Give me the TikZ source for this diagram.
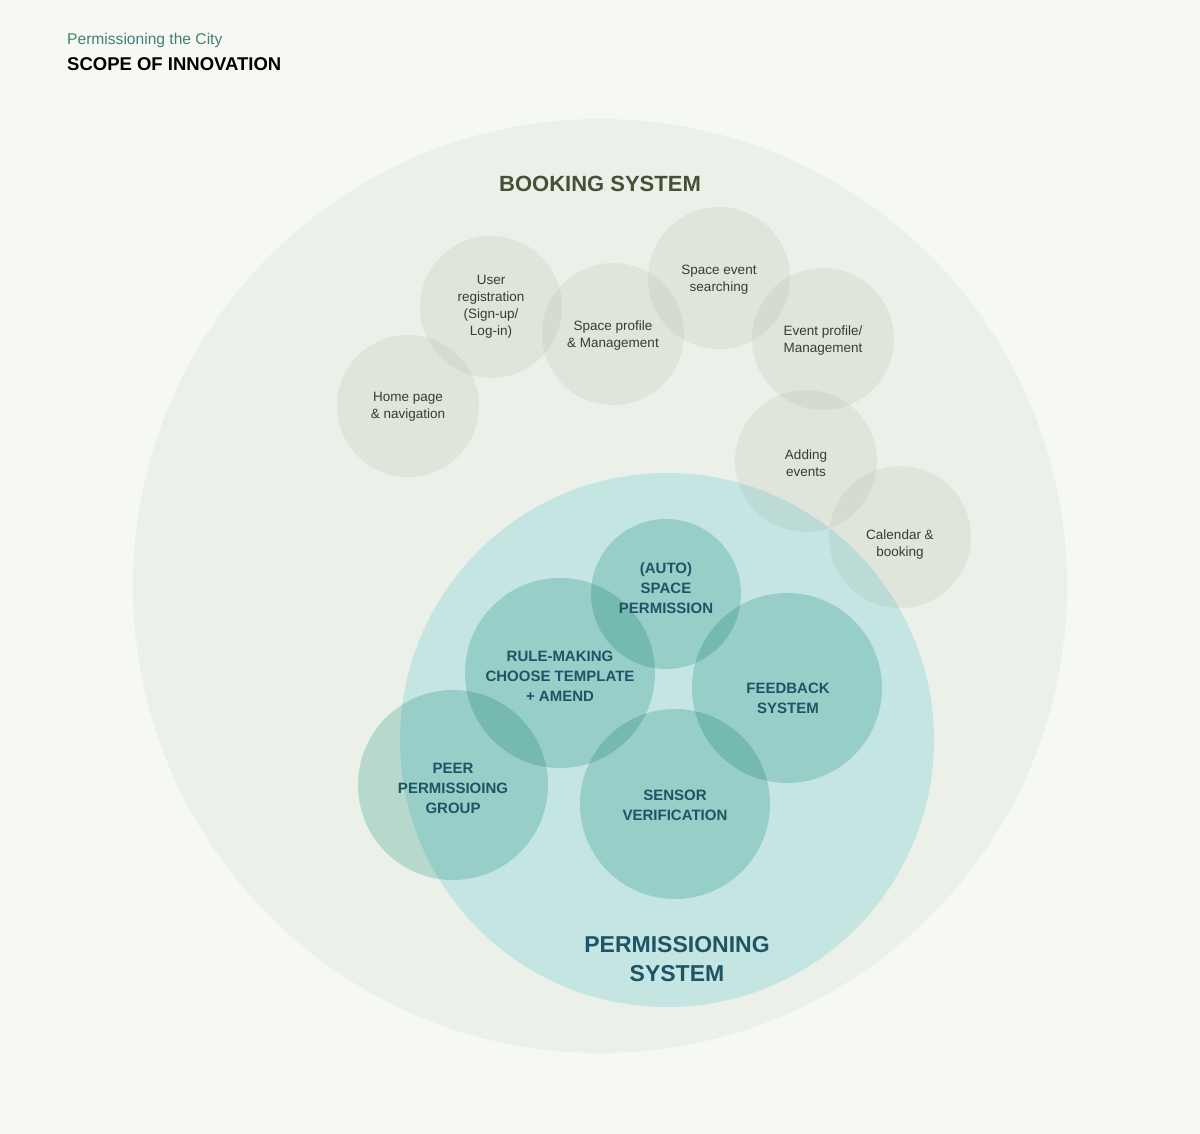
\documentclass[tikz,border=0pt]{standalone}
\usepackage{fontspec}
\setmainfont{Liberation Sans}
\definecolor{bg}{HTML}{F5F9F2}
\definecolor{bookfill}{HTML}{EBF0E8}
\definecolor{permfill}{HTML}{C5E5E2}
\definecolor{graymul}{HTML}{F4F4F2}
\definecolor{tealmul}{HTML}{C6E6E2}
\definecolor{olivetxt}{HTML}{474F37}
\definecolor{graytxt}{HTML}{383D33}
\definecolor{tealtxt}{HTML}{1D5566}
\definecolor{headtxt}{HTML}{3F8078}
\begin{document}
\begin{tikzpicture}[x=1pt,y=-1pt,
  bigc/.style={circle, inner sep=0pt, draw=none},
  grayc/.style={circle, inner sep=0pt, minimum size=142pt, fill=graymul},
  tealc/.style={circle, inner sep=0pt, minimum size=190pt, fill=tealmul},
  graylab/.style={align=center, text=graytxt, font=\fontsize{13.5}{17}\selectfont, inner sep=0pt},
  teallab/.style={align=center, text=tealtxt, font=\fontsize{15}{20}\selectfont\bfseries, inner sep=0pt},
  bigtitle/.style={align=center, font=\fontsize{22}{29}\selectfont\bfseries, inner sep=0pt}]
\fill[bg] (0,0) rectangle (1200,1134);
\useasboundingbox (0,0) rectangle (1200,1134);
% header
\node[anchor=base west, text=headtxt, font=\fontsize{15.6}{18}\selectfont, inner sep=0pt] (sub) at (67,45) {Permissioning the City};
\node[anchor=base west, text=black, font=\fontsize{18.5}{22}\selectfont\bfseries, inner sep=0pt] (title) at (67,71) {SCOPE OF INNOVATION};
% big circles
\node[bigc, minimum size=934pt, fill=bookfill] (booking) at (600,586) {};
\node[bigc, minimum size=534pt, fill=permfill] (perm) at (667,740) {};
% teal sub-circles
\begin{scope}[blend mode=multiply]
\node[tealc, minimum size=150pt] (auto) at (666,594) {};
\node[tealc] (rule) at (560,673) {};
\node[tealc] (feed) at (787,688) {};
\node[tealc] (peer) at (453,785) {};
\node[tealc] (sensor) at (675,804) {};
\end{scope}
% gray sub-circles
\begin{scope}[blend mode=multiply]
\node[grayc] (home) at (408,406) {};
\node[grayc] (user) at (491,307) {};
\node[grayc] (spprof) at (613,334) {};
\node[grayc] (spsearch) at (719,278) {};
\node[grayc] (evprof) at (823,339) {};
\node[grayc] (adding) at (806,461) {};
\node[grayc] (calendar) at (900,537) {};
\end{scope}
% titles
\node[bigtitle, text=olivetxt] (booktitle) at (600,184) {BOOKING SYSTEM};
\node[bigtitle, text=tealtxt, font=\fontsize{23}{29}\selectfont\bfseries] (permtitle) at (677,959) {PERMISSIONING\\SYSTEM};
% gray labels
\node[graylab] (homelab) at (408,407) {Home page\\\& navigation};
\node[graylab] (userlab) at (491,307) {User\\registration\\(Sign-up/\\Log-in)};
\node[graylab] (spproflab) at (613,336) {Space profile\\\& Management};
\node[graylab] (spsearchlab) at (719,280) {Space event\\searching};
\node[graylab] (evproflab) at (823,341) {Event profile/\\Management};
\node[graylab] (addinglab) at (806,463) {Adding\\events};
\node[graylab] (calendarlab) at (900,545) {Calendar \&\\booking};
% teal labels
\node[teallab] (autolab) at (666,588) {(AUTO)\\SPACE\\PERMISSION};
\node[teallab] (rulelab) at (560,676) {RULE-MAKING\\CHOOSE TEMPLATE\\+ AMEND};
\node[teallab] (feedlab) at (788,698) {FEEDBACK\\SYSTEM};
\node[teallab] (peerlab) at (453,788) {PEER\\PERMISSIOING\\GROUP};
\node[teallab] (sensorlab) at (675,805) {SENSOR\\VERIFICATION};
\end{tikzpicture}
\end{document}
